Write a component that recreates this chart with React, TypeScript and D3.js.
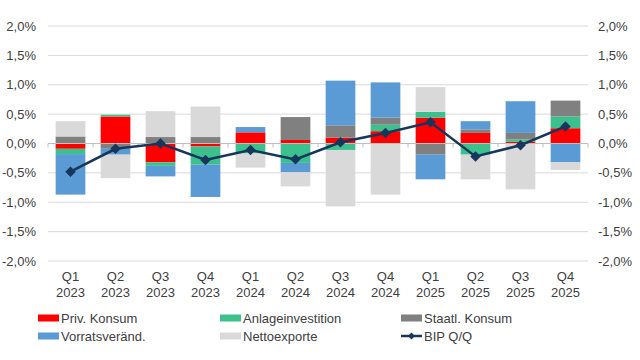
import * as d3 from "d3";

const quarters = ["Q1", "Q2", "Q3", "Q4", "Q1", "Q2", "Q3", "Q4", "Q1", "Q2", "Q3", "Q4"];
const years = ["2023", "2023", "2023", "2023", "2024", "2024", "2024", "2024", "2025", "2025", "2025", "2025"];

const privKonsum = [-0.09, 0.46, -0.32, -0.05, 0.19, 0.06, 0.1, 0.21, 0.44, 0.18, 0.03, 0.26];
const anlageinvestition = [-0.09, 0.03, -0.06, -0.31, -0.17, -0.33, -0.11, 0.11, 0.1, -0.19, 0.04, 0.2];
const staatlKonsum = [0.12, -0.09, 0.11, 0.11, 0, 0.39, 0.21, 0.12, -0.19, 0.06, 0.11, 0.27];
const vorratsveraend = [-0.69, -0.1, -0.18, -0.55, 0.09, -0.16, 0.76, 0.6, -0.42, 0.14, 0.54, -0.32];
const nettoexporte = [0.26, -0.4, 0.44, 0.52, -0.24, -0.24, -0.96, -0.87, 0.42, -0.42, -0.78, -0.13];
const bipQQ = [-0.48, -0.09, 0.0, -0.28, -0.11, -0.27, 0.02, 0.18, 0.36, -0.22, -0.03, 0.29];

const yTicks = [-2, -1.5, -1, -0.5, 0, 0.5, 1, 1.5, 2];

const seriesNames = ["Priv. Konsum", "Anlageinvestition", "Staatl. Konsum", "Vorratsveränd.", "Nettoexporte"];
const seriesColors = ["#FF0000", "#3CC18E", "#808080", "#5B9BD5", "#D9D9D9"];
const lineColor = "#16365C";

export default function App() {
  const width = 640;
  const height = 360;
  const marginLeft = 48;
  const marginRight = 52;
  const marginTop = 26;
  const plotBottom = 261;

  const seriesValues = [privKonsum, anlageinvestition, staatlKonsum, vorratsveraend, nettoexporte];
  const rows = quarters.map((q, i) => {
    const r: any = { key: i };
    seriesNames.forEach((n, j) => (r[n] = seriesValues[j][i]));
    return r;
  });

  const stacked = d3.stack().keys(seriesNames).offset(d3.stackOffsetDiverging)(rows);

  const x = d3.scaleBand<number>()
    .domain(quarters.map((_, i) => i))
    .range([marginLeft, width - marginRight])
    .paddingInner(0.34)
    .paddingOuter(0.17);

  const step = x.step();
  const xc = (i: number) => marginLeft + step * i + step / 2;
  const bw = step * 0.66;

  const y = d3.scaleLinear().domain([-2, 2]).range([plotBottom, marginTop]);

  const fmt = (v: number) => v.toFixed(1).replace(".", ",") + "%";

  const line = d3.line<number>()
    .x((_, i) => xc(i))
    .y((d) => y(d));

  const diamond = d3.symbol().type(d3.symbolDiamond2).size(70)();

  const font = "'Liberation Sans', Arial, sans-serif";
  const textColor = "#404040";

  const legendItems = [
    { name: seriesNames[0], color: seriesColors[0], x: 38, y: 318 },
    { name: seriesNames[1], color: seriesColors[1], x: 220, y: 318 },
    { name: seriesNames[2], color: seriesColors[2], x: 401, y: 318 },
    { name: seriesNames[3], color: seriesColors[3], x: 38, y: 336 },
    { name: seriesNames[4], color: seriesColors[4], x: 220, y: 336 },
  ];

  return (
    <svg width={width} height={height} style={{ position: "absolute", left: 0, top: 0, background: "#fff" }} fontFamily={font}>
      {/* gridlines */}
      {yTicks.filter((t) => t !== 0).map((t) => (
        <line key={t} x1={marginLeft} x2={width - marginRight} y1={y(t)} y2={y(t)} stroke="#D9D9D9" strokeWidth={1} />
      ))}
      {/* y labels left and right */}
      {yTicks.map((t) => (
        <g key={"l" + t} fontSize={13} fill={textColor}>
          <text x={36} y={y(t)} dy="0.35em" textAnchor="end">{fmt(t)}</text>
          <text x={598} y={y(t)} dy="0.35em" textAnchor="start">{fmt(t)}</text>
        </g>
      ))}
      {/* bars */}
      {stacked.map((s, j) => (
        <g key={s.key} fill={seriesColors[j]}>
          {s.map((d, i) => (
            <rect
              key={i}
              x={xc(i) - bw / 2}
              width={bw}
              y={y(Math.max(d[0], d[1]))}
              height={Math.abs(y(d[0]) - y(d[1]))}
            />
          ))}
        </g>
      ))}
      {/* zero axis */}
      <line x1={marginLeft} x2={width - marginRight} y1={y(0)} y2={y(0)} stroke="#BFBFBF" strokeWidth={1} />
      {d3.range(quarters.length + 1).map((i) => (
        <line key={"t" + i} x1={marginLeft + step * i} x2={marginLeft + step * i} y1={y(0)} y2={y(0) + 4} stroke="#BFBFBF" />
      ))}
      {/* BIP line */}
      <path d={line(bipQQ) || ""} fill="none" stroke={lineColor} strokeWidth={2.5} />
      {bipQQ.map((v, i) => (
        <path key={"m" + i} d={diamond || ""} transform={`translate(${xc(i)},${y(v)})`} fill={lineColor} />
      ))}
      {/* x labels */}
      {quarters.map((q, i) => (
        <g key={"x" + i} fontSize={13} fill={textColor} textAnchor="middle">
          <text x={xc(i)} y={281}>{q}</text>
          <text x={xc(i)} y={297}>{years[i]}</text>
        </g>
      ))}
      {/* legend */}
      {legendItems.map((it) => (
        <g key={it.name}>
          <rect x={it.x} y={it.y - 3.5} width={21} height={7} fill={it.color} />
          <text x={it.x + 23} y={it.y} dy="0.35em" fontSize={13} fill={textColor}>{it.name}</text>
        </g>
      ))}
      <g>
        <line x1={401} x2={422} y1={336} y2={336} stroke={lineColor} strokeWidth={2.5} />
        <path d={d3.symbol().type(d3.symbolDiamond2).size(30)() || ""} transform="translate(411.5,336)" fill={lineColor} />
        <text x={424} y={336} dy="0.35em" fontSize={13} fill={textColor}>BIP Q/Q</text>
      </g>
    </svg>
  );
}
